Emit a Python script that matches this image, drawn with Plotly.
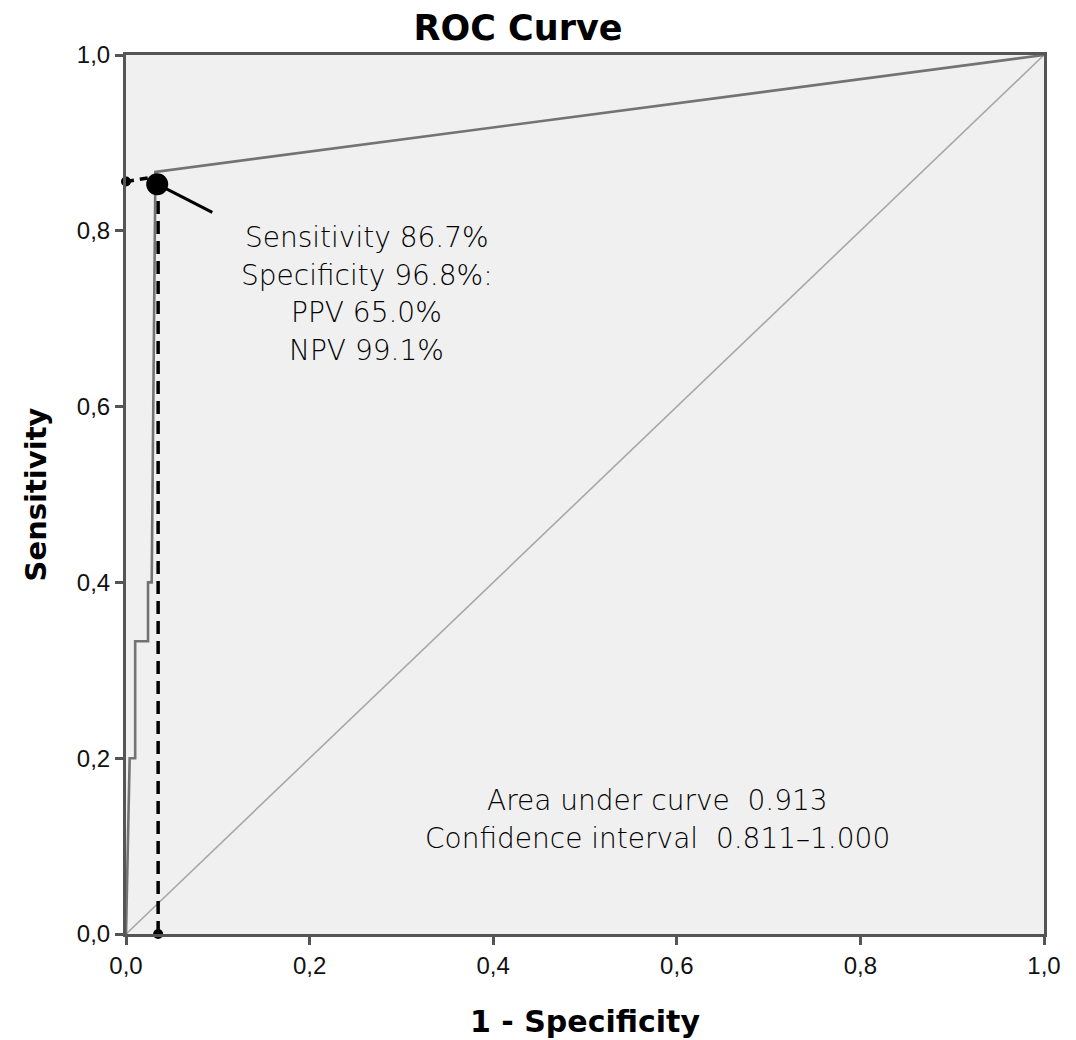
import plotly.graph_objects as go

# ROC curve points (1 - specificity, sensitivity)
roc_fpr = [0.0, 0.004, 0.010, 0.010, 0.024, 0.024, 0.028, 0.032, 1.0]
roc_tpr = [0.0, 0.200, 0.200, 0.333, 0.333, 0.400, 0.400, 0.867, 1.0]

# reference diagonal
diag_x = [0.0, 1.0]
diag_y = [0.0, 1.0]

# selected cut-off point and guide lines
cut_x = 0.034
cut_y = 0.853
guide_v_x = [0.035, 0.035]
guide_v_y = [0.0, 0.853]
guide_h_x = [0.0, 0.034]
guide_h_y = [0.856, 0.862]
pointer_x = [0.034, 0.094]
pointer_y = [0.853, 0.821]
small_dot_x = [0.0, 0.035]
small_dot_y = [0.856, 0.0]

tick_vals = [0.0, 0.2, 0.4, 0.6, 0.8, 1.0]

cut_lines = ["Sensitivity 86.7%", "Specificity 96.8%:", "PPV 65.0%", "NPV 99.1%"]
cut_line_y = [0.792, 0.749, 0.7065, 0.664]
auc_lines = ["Area under curve  0.913", "Confidence interval  0.811\u20131.000"]
auc_line_y = [0.1524, 0.1092]

fig = go.Figure()
fig.add_trace(go.Scatter(x=diag_x, y=diag_y, mode="lines",
                         line=dict(color="#a8a8a8", width=1.6), hoverinfo="skip"))
fig.add_trace(go.Scatter(x=roc_fpr, y=roc_tpr, mode="lines",
                         line=dict(color="#737373", width=2.6), hoverinfo="skip"))
fig.add_trace(go.Scatter(x=guide_v_x, y=guide_v_y, mode="lines",
                         line=dict(color="black", width=3.5, dash="13px,7px"), hoverinfo="skip"))
fig.add_trace(go.Scatter(x=guide_h_x, y=guide_h_y, mode="lines",
                         line=dict(color="black", width=3.5, dash="8px,6px"), hoverinfo="skip"))
fig.add_trace(go.Scatter(x=pointer_x, y=pointer_y, mode="lines",
                         line=dict(color="black", width=3), hoverinfo="skip"))
fig.add_trace(go.Scatter(x=small_dot_x, y=small_dot_y, mode="markers",
                         marker=dict(color="black", size=10), cliponaxis=False, hoverinfo="skip"))
fig.add_trace(go.Scatter(x=[cut_x], y=[cut_y], mode="markers",
                         marker=dict(color="black", size=22), cliponaxis=False, hoverinfo="skip"))

ann_font = dict(family="DejaVu Sans", size=28, color="#000000", weight=200)
for txt, yy in zip(cut_lines, cut_line_y):
    fig.add_annotation(x=0.2625, y=yy, xref="x", yref="y", text=txt, showarrow=False,
                       font=ann_font, xanchor="center", yanchor="middle")
for txt, yy in zip(auc_lines, auc_line_y):
    fig.add_annotation(x=0.5795, y=yy, xref="x", yref="y", text=txt, showarrow=False,
                       font=ann_font, xanchor="center", yanchor="middle")

axis_common = dict(range=[0, 1], tickvals=tick_vals, tickformat=".1f",
                   ticks="outside", ticklen=8, tickwidth=3, tickcolor="#555555",
                   showline=True, linecolor="#555555", linewidth=3, mirror=True,
                   showgrid=False, zeroline=False,
                   tickfont=dict(family="Liberation Sans", size=24, color="#111111"))

fig.update_xaxes(**axis_common,
                 title=dict(text="<b>1 - Specificity</b>", standoff=34,
                            font=dict(family="DejaVu Sans", size=30, color="#000000")))
fig.update_yaxes(**axis_common,
                 title=dict(text="<b>Sensitivity</b>", standoff=22,
                            font=dict(family="DejaVu Sans", size=29, color="#000000")))

fig.update_layout(
    width=1076, height=1040,
    margin=dict(l=118, r=40, t=47, b=114),
    paper_bgcolor="white", plot_bgcolor="#f0f0f0",
    separators=",.",
    showlegend=False,
    title=dict(text="<b>ROC Curve</b>", x=0.474, xanchor="center", y=0.981, yanchor="middle",
               font=dict(family="DejaVu Sans", size=35, color="#000000")),
)

fig.write_html("out.html")
